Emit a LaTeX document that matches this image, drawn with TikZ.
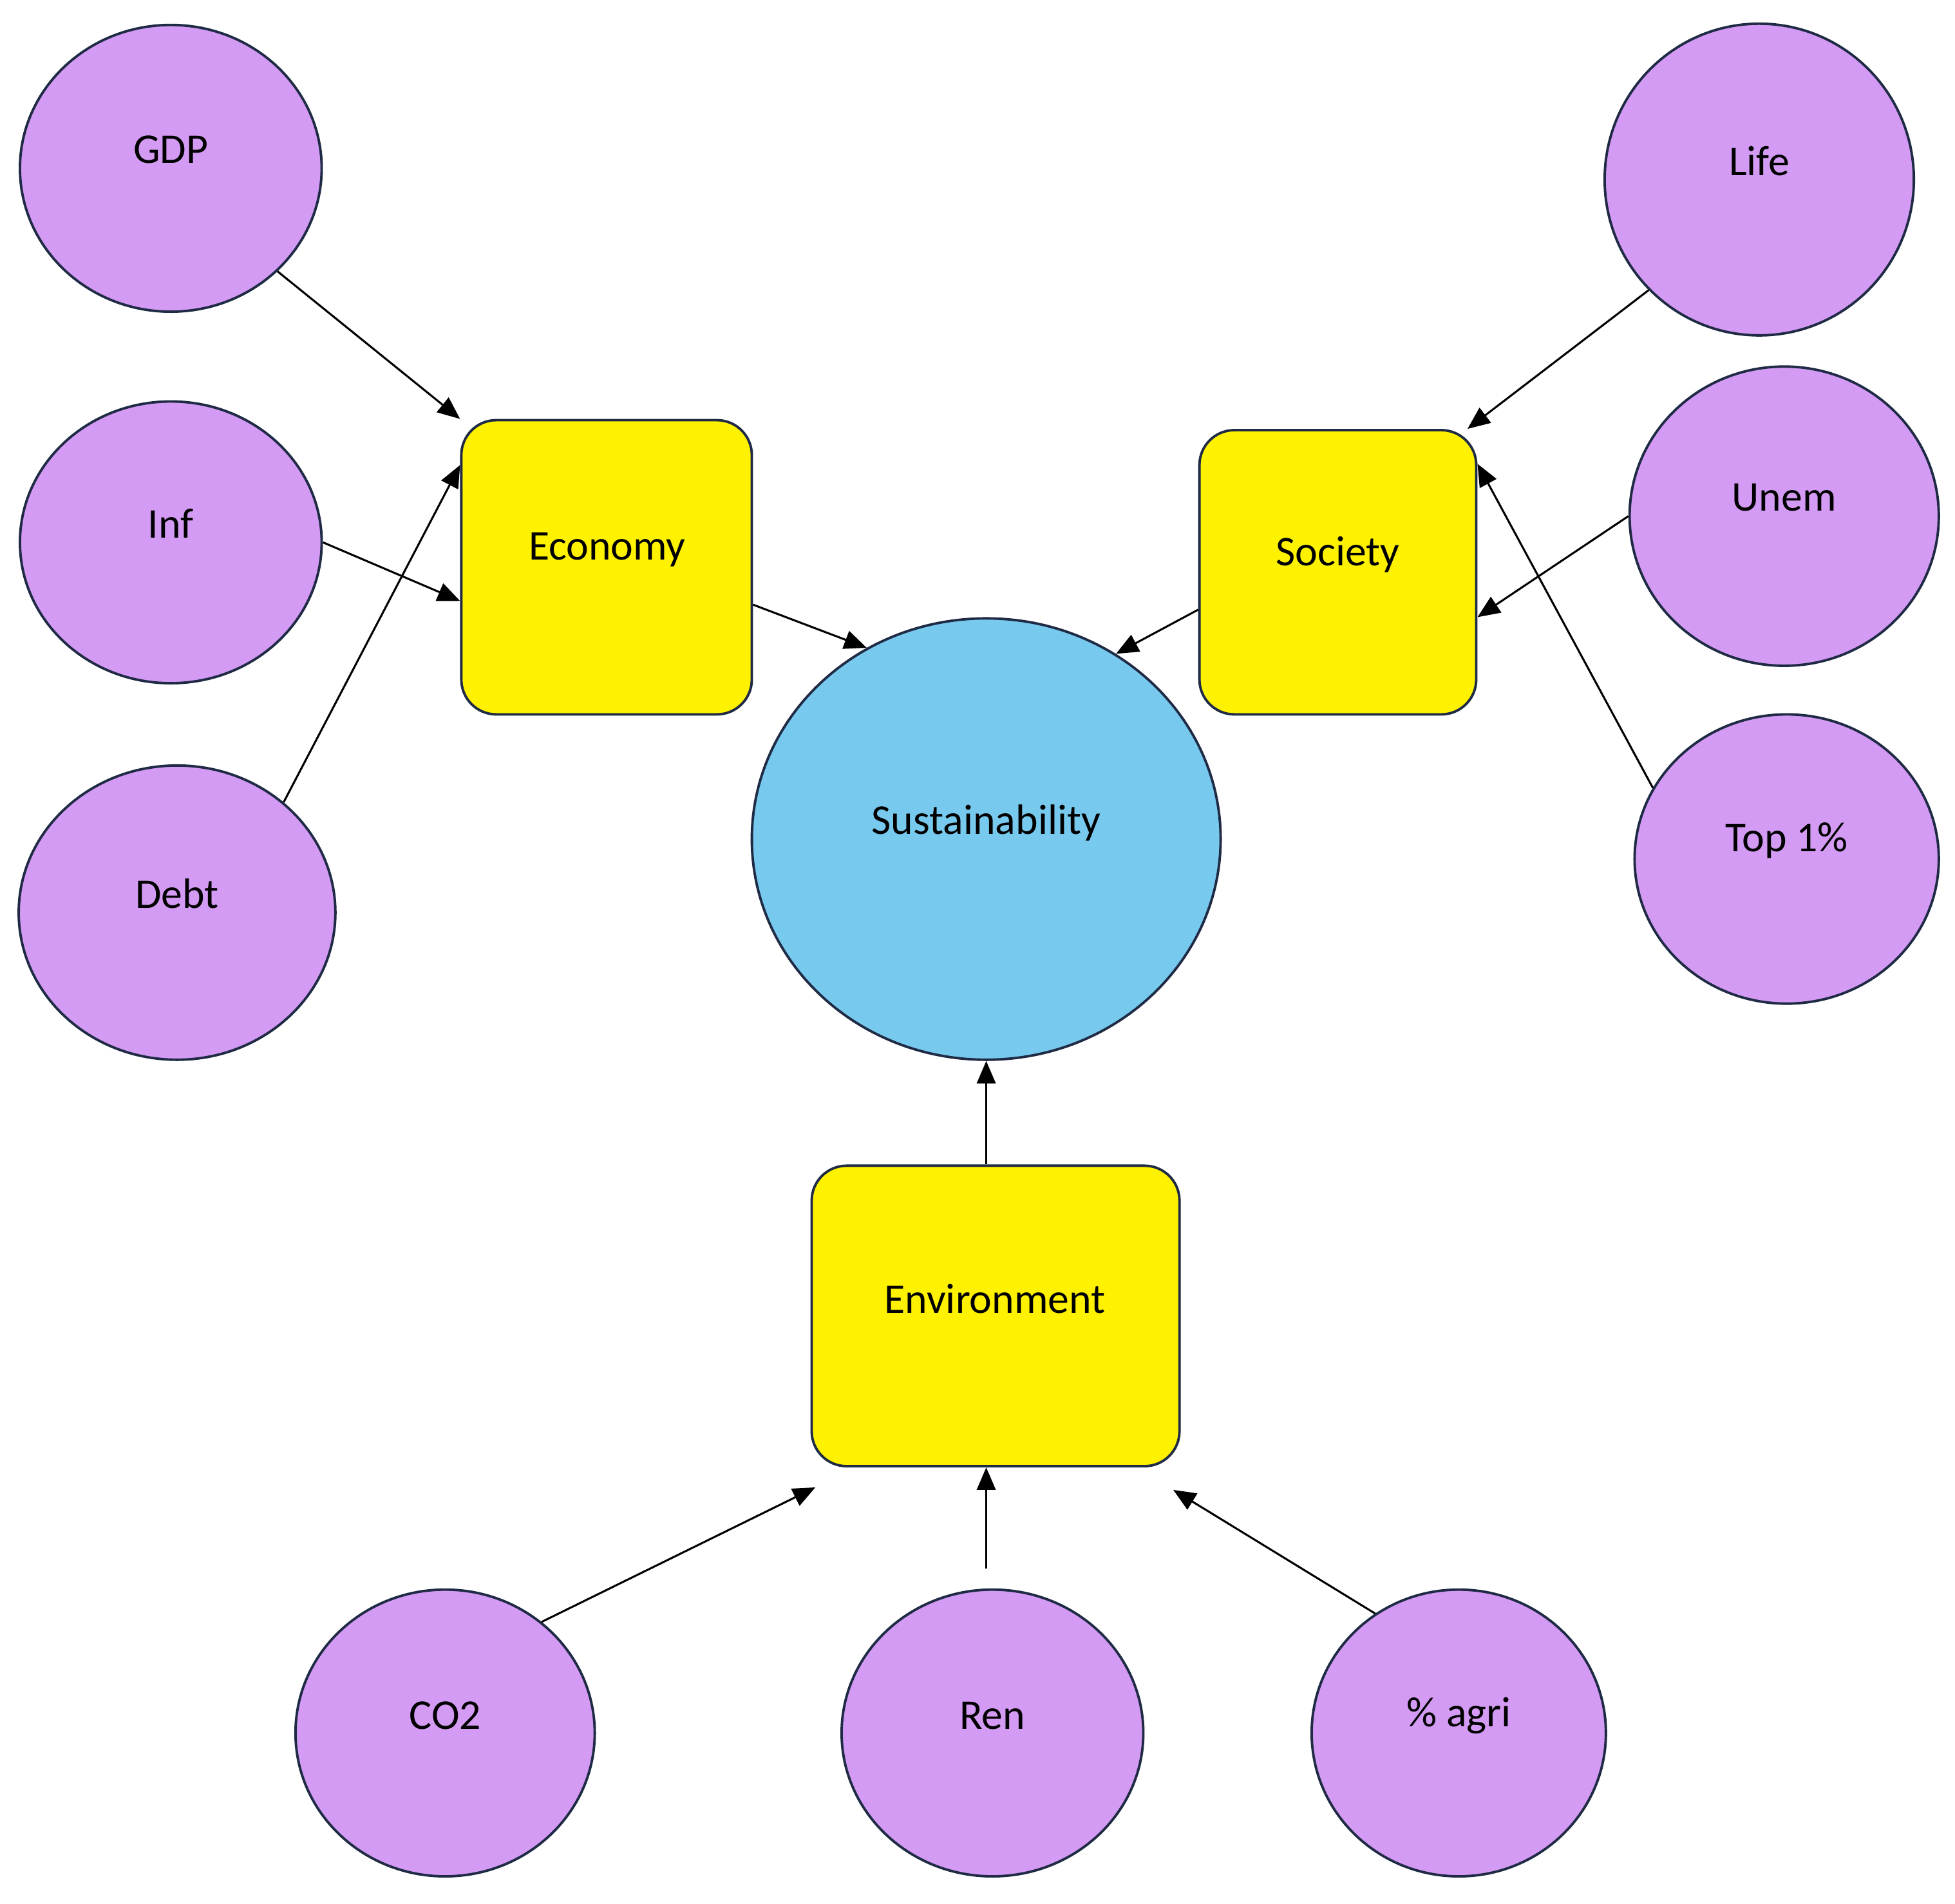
\documentclass[tikz,border=0pt]{standalone}
\usepackage{fontspec}
\setmainfont{Carlito}
\usetikzlibrary{shapes.geometric,arrows.meta}
\definecolor{pur}{HTML}{D39BF3}
\definecolor{blu}{HTML}{77C9EE}
\definecolor{edg}{HTML}{1F2A44}
\begin{document}
\begin{tikzpicture}[x=1pt,y=-1pt,
  every node/.style={font=\fontsize{34}{40}\selectfont},
  var/.style={ellipse,draw=edg,line width=2pt,fill=pur,inner sep=0},
  box/.style={rectangle,rounded corners=28pt,draw=edg,line width=2pt,fill=yellow,inner sep=0},
  arr/.style={line width=1.6pt,-{Triangle[length=18pt,width=15pt]}},
  lbl/.style={text=black}]
\useasboundingbox (0,0) rectangle (1568,1527);
\node[var,minimum width=242pt,minimum height=230pt] (gdp) at (137,135) {};
\node[var,minimum width=242pt,minimum height=226pt] (inf) at (137,435) {};
\node[var,minimum width=254pt,minimum height=236pt] (debt) at (142,732) {};
\node[var,minimum width=248pt,minimum height=250pt] (life) at (1411,144) {};
\node[var,minimum width=248pt,minimum height=240pt] (unem) at (1431,414) {};
\node[var,minimum width=244pt,minimum height=232pt] (top) at (1433,689) {};
\node[var,minimum width=240pt,minimum height=230pt] (co2) at (357,1390) {};
\node[var,minimum width=242pt,minimum height=230pt] (ren) at (796,1390) {};
\node[var,minimum width=236pt,minimum height=230pt] (agri) at (1170,1390) {};
\node[box,minimum width=233pt,minimum height=236pt] (eco) at (486.5,455) {};
\node[box,minimum width=222pt,minimum height=228pt] (soc) at (1073,459) {};
\node[box,minimum width=295pt,minimum height=241pt] (env) at (798.5,1055.5) {};
\node[ellipse,draw=edg,line width=2pt,fill=blu,inner sep=0,minimum width=376pt,minimum height=354pt] (sus) at (791,673) {};
\node[lbl] (tgdp) at (137,120) {GDP};
\node[lbl] (tinf) at (137,420) {Inf};
\node[lbl] (tdebt) at (142,717) {Debt};
\node[lbl] (tlife) at (1411,129) {Life};
\node[lbl] (tunem) at (1431,399) {Unem};
\node[lbl] (ttop) at (1433,674) {Top 1\%};
\node[lbl] (tco2) at (357,1376) {CO2};
\node[lbl] (tren) at (796,1376) {Ren};
\node[lbl] (tagri) at (1170,1376) {\% agri};
\node[lbl] (teco) at (487,441) {Economy};
\node[lbl] (tsoc) at (1073,445) {Society};
\node[lbl] (tenv) at (798,1042) {Environment};
\node[lbl] (tsus) at (791,660) {Sustainability};
\draw[arr] (gdp.-44) -- (eco.north west);
\draw[arr] (inf.east) -- ([yshift=-27pt]eco.west);
\draw[arr] (debt.46) -- ([yshift=82pt]eco.west);
\draw[arr] ([yshift=-30pt]eco.east) -- (sus.122);
\draw[arr] ([yshift=-30pt]soc.west) -- (sus.55);
\draw[arr] (life.-135) -- ([xshift=-8pt]soc.north east);
\draw[arr] (unem.west) -- ([yshift=-36pt]soc.east);
\draw[arr] (top.152) -- ([yshift=87pt]soc.east);
\draw[arr] (env.north -| sus.south) -- (sus.south);
\draw[arr] (co2.49) -- ([xshift=4pt,yshift=-16pt]env.south west);
\draw[arr,shorten <=16pt] (ren.north -| sus.south) -- (env.south -| sus.south);
\draw[arr] (agri.125) -- ([xshift=-6pt,yshift=-18pt]env.south east);
\end{tikzpicture}
\end{document}
